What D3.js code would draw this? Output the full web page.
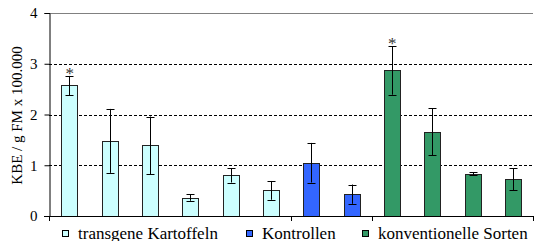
<!DOCTYPE html>
<html>
<head>
<meta charset="utf-8">
<script src="https://cdn.jsdelivr.net/npm/d3@7"></script>
<style>
  body { margin: 0; background: #fff; }
</style>
</head>
<body>
<div id="chart"></div>
<script>
// values
var groups = ['transgene Kartoffeln', 'Kontrollen', 'konventionelle Sorten'];
var groupOf = [0, 0, 0, 0, 0, 0, 1, 1, 2, 2, 2, 2];
var means = [2.58, 1.48, 1.39, 0.355, 0.80, 0.51, 1.04, 0.43, 2.88, 1.655, 0.83, 0.735];
var errHi = [2.76, 2.11, 1.96, 0.43, 0.94, 0.69, 1.44, 0.62, 3.34, 2.12, 0.86, 0.94];
var errLo = [2.38, 0.85, 0.82, 0.30, 0.66, 0.32, 0.66, 0.24, 2.39, 1.20, 0.80, 0.51];
var starred = [0, 8];
var yTicks = [0, 1, 2, 3, 4];
var colors = ['#ccffff', '#3366ff', '#339966'];

(function() {
    var width = 534, height = 241;
    var mLeft = 49, mRight = 533, mTop = 13, mBottom = 216;
    var serif = 'Liberation Serif';

    var svg = d3.select('#chart').append('svg')
        .attr('width', width)
        .attr('height', height);

    var x = d3.scaleBand()
        .domain(d3.range(means.length))
        .range([mLeft, mRight]);

    var y = d3.scaleLinear()
        .domain([0, 4])
        .range([mBottom, mTop]);

    // dashed grid
    svg.selectAll('line.grid')
        .data([1, 2, 3])
        .enter().append('line')
        .attr('x1', mLeft)
        .attr('x2', mRight)
        .attr('y1', function(d) { return Math.round(y(d)) + 0.5; })
        .attr('y2', function(d) { return Math.round(y(d)) + 0.5; })
        .attr('stroke', '#000')
        .attr('stroke-dasharray', '3,2');

    // plot area top border
    svg.append('line')
        .attr('x1', mLeft).attr('x2', mRight)
        .attr('y1', y(4) + 0.5).attr('y2', y(4) + 0.5)
        .attr('stroke', '#808080');

    var bw = 16;
    var cx = function(i) { return x(i) + x.bandwidth() / 2; };

    svg.selectAll('rect.bar')
        .data(means)
        .enter().append('rect')
        .attr('x', function(d, i) { return Math.round(cx(i) - bw / 2) + 0.5; })
        .attr('y', function(d) { return Math.round(y(d)) + 0.5; })
        .attr('width', bw)
        .attr('height', function(d) { return Math.round(y(0)) - Math.round(y(d)); })
        .attr('fill', function(d, i) { return colors[groupOf[i]]; })
        .attr('stroke', '#222');

    // error bars
    var eb = svg.selectAll('g.err')
        .data(means)
        .enter().append('g')
        .attr('stroke', '#000');
    eb.append('line')
        .attr('x1', function(d, i) { return Math.round(cx(i)) + 0.5; })
        .attr('x2', function(d, i) { return Math.round(cx(i)) + 0.5; })
        .attr('y1', function(d, i) { return y(errHi[i]); })
        .attr('y2', function(d, i) { return y(errLo[i]); });
    eb.append('line')
        .attr('x1', function(d, i) { return Math.round(cx(i)) - 3.5; })
        .attr('x2', function(d, i) { return Math.round(cx(i)) + 4.5; })
        .attr('y1', function(d, i) { return Math.round(y(errHi[i])) + 0.5; })
        .attr('y2', function(d, i) { return Math.round(y(errHi[i])) + 0.5; });
    eb.append('line')
        .attr('x1', function(d, i) { return Math.round(cx(i)) - 3.5; })
        .attr('x2', function(d, i) { return Math.round(cx(i)) + 4.5; })
        .attr('y1', function(d, i) { return Math.round(y(errLo[i])) + 0.5; })
        .attr('y2', function(d, i) { return Math.round(y(errLo[i])) + 0.5; });

    // significance stars
    svg.selectAll('text.star')
        .data(starred)
        .enter().append('text')
        .attr('x', function(d) { return cx(d) + 0.5; })
        .attr('y', function(d) { return y(errHi[d]) + 3; })
        .attr('text-anchor', 'middle')
        .attr('fill', '#333')
        .style('font-family', serif)
        .style('font-size', '17px')
        .text('*');

    // y axis
    var yAxis = svg.append('g')
        .attr('transform', 'translate(' + (mLeft + 0.5) + ',0)')
        .call(d3.axisLeft(y).tickValues(yTicks).tickSize(5).tickPadding(7).tickFormat(d3.format('d')));
    yAxis.select('.domain').attr('stroke', '#000');
    yAxis.selectAll('line').attr('stroke', '#000');
    yAxis.selectAll('text')
        .style('font-family', serif)
        .style('font-size', '15px')
        .attr('fill', '#000');

    // x axis line and group ticks
    svg.append('line')
        .attr('x1', mLeft - 5).attr('x2', mRight)
        .attr('y1', mBottom + 0.5).attr('y2', mBottom + 0.5)
        .attr('stroke', '#000');
    var bounds = [0, 6, 8, 12];
    svg.selectAll('line.xtick')
        .data(bounds)
        .enter().append('line')
        .attr('x1', function(d) { return Math.round(d < 12 ? x(d) : x.range()[1]) + 0.5; })
        .attr('x2', function(d) { return Math.round(d < 12 ? x(d) : x.range()[1]) + 0.5; })
        .attr('y1', mBottom)
        .attr('y2', mBottom + 5)
        .attr('stroke', '#000');

    // y title
    svg.append('text')
        .attr('transform', 'translate(22,' + ((mTop + mBottom) / 2 + 1) + ') rotate(-90)')
        .attr('text-anchor', 'middle')
        .style('font-family', serif)
        .style('font-size', '15px')
        .text('KBE / g FM x 100.000');

    // legend
    var legendX = [62, 246, 362];
    var lg = svg.selectAll('g.legend')
        .data(groups)
        .enter().append('g')
        .attr('transform', function(d, i) { return 'translate(' + legendX[i] + ',0)'; });
    lg.append('rect')
        .attr('x', 0.5).attr('y', 230.5)
        .attr('width', 6).attr('height', 6)
        .attr('fill', function(d, i) { return colors[i]; })
        .attr('stroke', '#000');
    lg.append('text')
        .attr('x', 16)
        .attr('y', 238.5)
        .style('font-family', serif)
        .style('font-size', '17px')
        .text(function(d) { return d; });
})();
</script>
</body>
</html>
